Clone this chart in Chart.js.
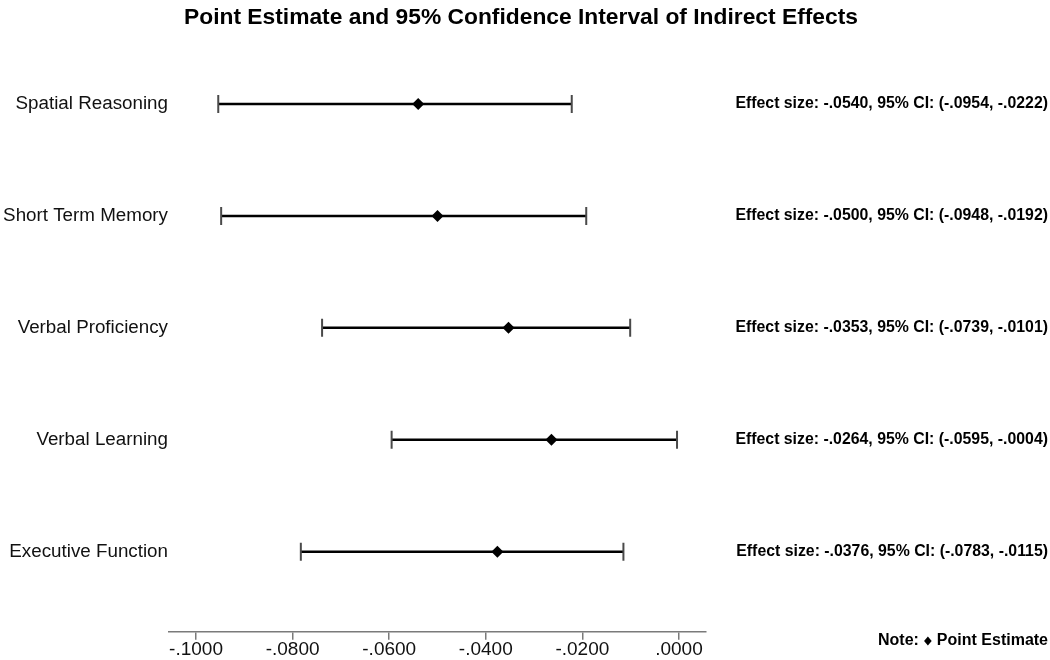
<!DOCTYPE html>
<html>
<head>
<meta charset="utf-8">
<title>Indirect Effects</title>
<script src="https://cdn.jsdelivr.net/npm/chart.js@4.4.1/dist/chart.umd.min.js"></script>
<style>
  html, body { margin: 0; padding: 0; background: #fff; }
  #wrap { width: 1050px; height: 660px; position: relative; }
</style>
</head>
<body>
<div id="wrap"><canvas id="forest"></canvas></div>
<script>
/* Forest plot: point estimate + 95% CI of indirect effects */
const categories = ["Spatial Reasoning", "Short Term Memory", "Verbal Proficiency", "Verbal Learning", "Executive Function"];
const estimates = [-0.0540, -0.0500, -0.0353, -0.0264, -0.0376];
const ciLower = [-0.0954, -0.0948, -0.0739, -0.0595, -0.0783];
const ciUpper = [-0.0222, -0.0192, -0.0101, -0.0004, -0.0115];
const xTicks = [-0.1, -0.08, -0.06, -0.04, -0.02, 0];
const TITLE = "Point Estimate and 95% Confidence Interval of Indirect Effects";

const INK = "#111", AXIS = "#7a7a7a", CAP = "#4a4a4a";
const FAM = "Arial, 'Liberation Sans', Helvetica, sans-serif";
Chart.defaults.font.family = FAM;

const fmt = v => (v < 0 ? "-" : "") + Math.abs(v).toFixed(4).slice(1);

// one line dataset per row: whisker line, caps drawn as vertical point lines
const ciSets = categories.map((c, i) => ({
  label: c,
  data: [{ x: ciLower[i], y: i + 1 }, { x: ciUpper[i], y: i + 1 }],
  showLine: true, borderColor: "#000", borderWidth: 2.5,
  pointStyle: "line", rotation: 90, pointRadius: 9,
  pointBorderColor: CAP, pointBorderWidth: 2, order: 2
}));

const estSet = {
  label: "Point Estimate",
  data: estimates.map((v, i) => ({ x: v, y: i + 1 })),
  pointStyle: "rectRot", pointRadius: 6, backgroundColor: "#000", borderColor: "#000", borderWidth: 0, order: 0
};

const sideText = {
  id: "sideText",
  afterDraw(chart) {
    const ctx = chart.ctx, y = chart.scales.y, right = chart.width - 2, left = chart.chartArea.left - 1;
    ctx.save();
    ctx.textBaseline = "middle";
    // title
    ctx.fillStyle = "#000";
    ctx.textAlign = "center";
    ctx.font = "bold 22.8px " + FAM;
    ctx.fillText(TITLE, 521, 18);
    // category labels, right aligned against the plot
    ctx.fillStyle = INK;
    ctx.textAlign = "right";
    ctx.font = "18.8px " + FAM;
    categories.forEach((c, i) => ctx.fillText(c, left, y.getPixelForValue(i + 1)));
    // effect size annotations
    ctx.fillStyle = "#000";
    ctx.font = "bold 15.85px " + FAM;
    categories.forEach((c, i) => {
      const t = "Effect size: " + fmt(estimates[i]) + ", 95% CI: (" + fmt(ciLower[i]) + ", " + fmt(ciUpper[i]) + ")";
      ctx.fillText(t, right, y.getPixelForValue(i + 1));
    });
    // note at bottom right
    const ny = 641;
    ctx.font = "bold 16px " + FAM;
    const p2 = "Point Estimate", p1 = "Note:";
    const w2 = ctx.measureText(p2).width;
    ctx.fillText(p2, right, ny);
    const dx = right - w2 - 9;
    ctx.beginPath();
    ctx.moveTo(dx, ny - 4.5); ctx.lineTo(dx + 3.8, ny); ctx.lineTo(dx, ny + 4.5); ctx.lineTo(dx - 3.8, ny);
    ctx.closePath(); ctx.fill();
    ctx.fillText(p1, dx - 9, ny);
    ctx.restore();
  }
};

new Chart(document.getElementById("forest"), {
  type: "scatter",
  data: { datasets: [estSet, ...ciSets] },
  options: {
    responsive: true, maintainAspectRatio: false, animation: false,
    layout: { padding: { left: 169, right: 344, top: 48, bottom: 0 } },
    plugins: { legend: { display: false }, tooltip: { enabled: false } },
    scales: {
      x: {
        type: "linear", position: "bottom", min: -0.1056, max: 0.0056,
        afterBuildTicks: s => { s.ticks = xTicks.map(v => ({ value: v })); },
        grid: { drawOnChartArea: false, drawTicks: true, tickLength: 8, color: AXIS, lineWidth: 1.5 },
        border: { color: AXIS, width: 1.5 },
        ticks: { color: INK, font: { size: 19, lineHeight: 0.85 }, padding: 2, maxRotation: 0, callback: v => fmt(v) }
      },
      y: {
        type: "linear", reverse: true, min: 0.5, max: 5.716, display: false
      }
    }
  },
  plugins: [sideText]
});
</script>
</body>
</html>
